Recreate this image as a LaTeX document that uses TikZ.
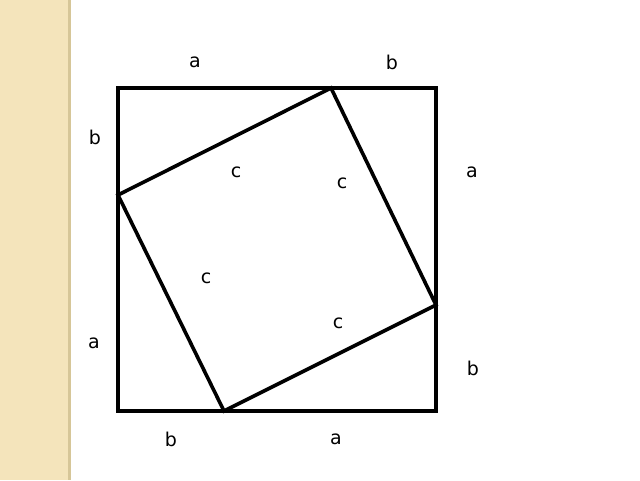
\documentclass[tikz,border=0pt]{standalone}
\usepackage{fontspec}
\setmainfont{DejaVu Sans}
\definecolor{strip}{RGB}{244,228,187}
\definecolor{stripedge}{RGB}{214,198,152}
\begin{document}
\begin{tikzpicture}[x=1pt,y=-1pt,
  lbl/.style={font=\fontsize{19}{22}\selectfont, inner sep=0pt},
  edge/.style={line width=3.6pt, line join=miter}]
\useasboundingbox (0,0) rectangle (640,480);
\fill[white] (0,0) rectangle (640,480);
\fill[strip] (0,0) rectangle (68,480);
\fill[stripedge] (68,0) rectangle (71,480);
\coordinate (A) at (118,88);
\coordinate (B) at (436,88);
\coordinate (C) at (436,411);
\coordinate (D) at (118,411);
\coordinate (P) at (331,88);
\coordinate (Q) at (436,305);
\coordinate (R) at (224,411);
\coordinate (S) at (118,195);
\draw[edge] (A) -- (B) -- (C) -- (D) -- cycle;
\draw[edge] (P) -- (Q) -- (R) -- (S) -- cycle;
\node[lbl] (l1) at (195,62) {a};
\node[lbl] (l2) at (392,62) {b};
\node[lbl] (l3) at (95,137) {b};
\node[lbl] (l4) at (472,172) {a};
\node[lbl] (l5) at (236,172) {c};
\node[lbl] (l6) at (342,183) {c};
\node[lbl] (l7) at (206,278) {c};
\node[lbl] (l8) at (338,323) {c};
\node[lbl] (l9) at (94,343) {a};
\node[lbl] (l10) at (473,368) {b};
\node[lbl] (l11) at (171,439) {b};
\node[lbl] (l12) at (336,439) {a};
\end{tikzpicture}
\end{document}
